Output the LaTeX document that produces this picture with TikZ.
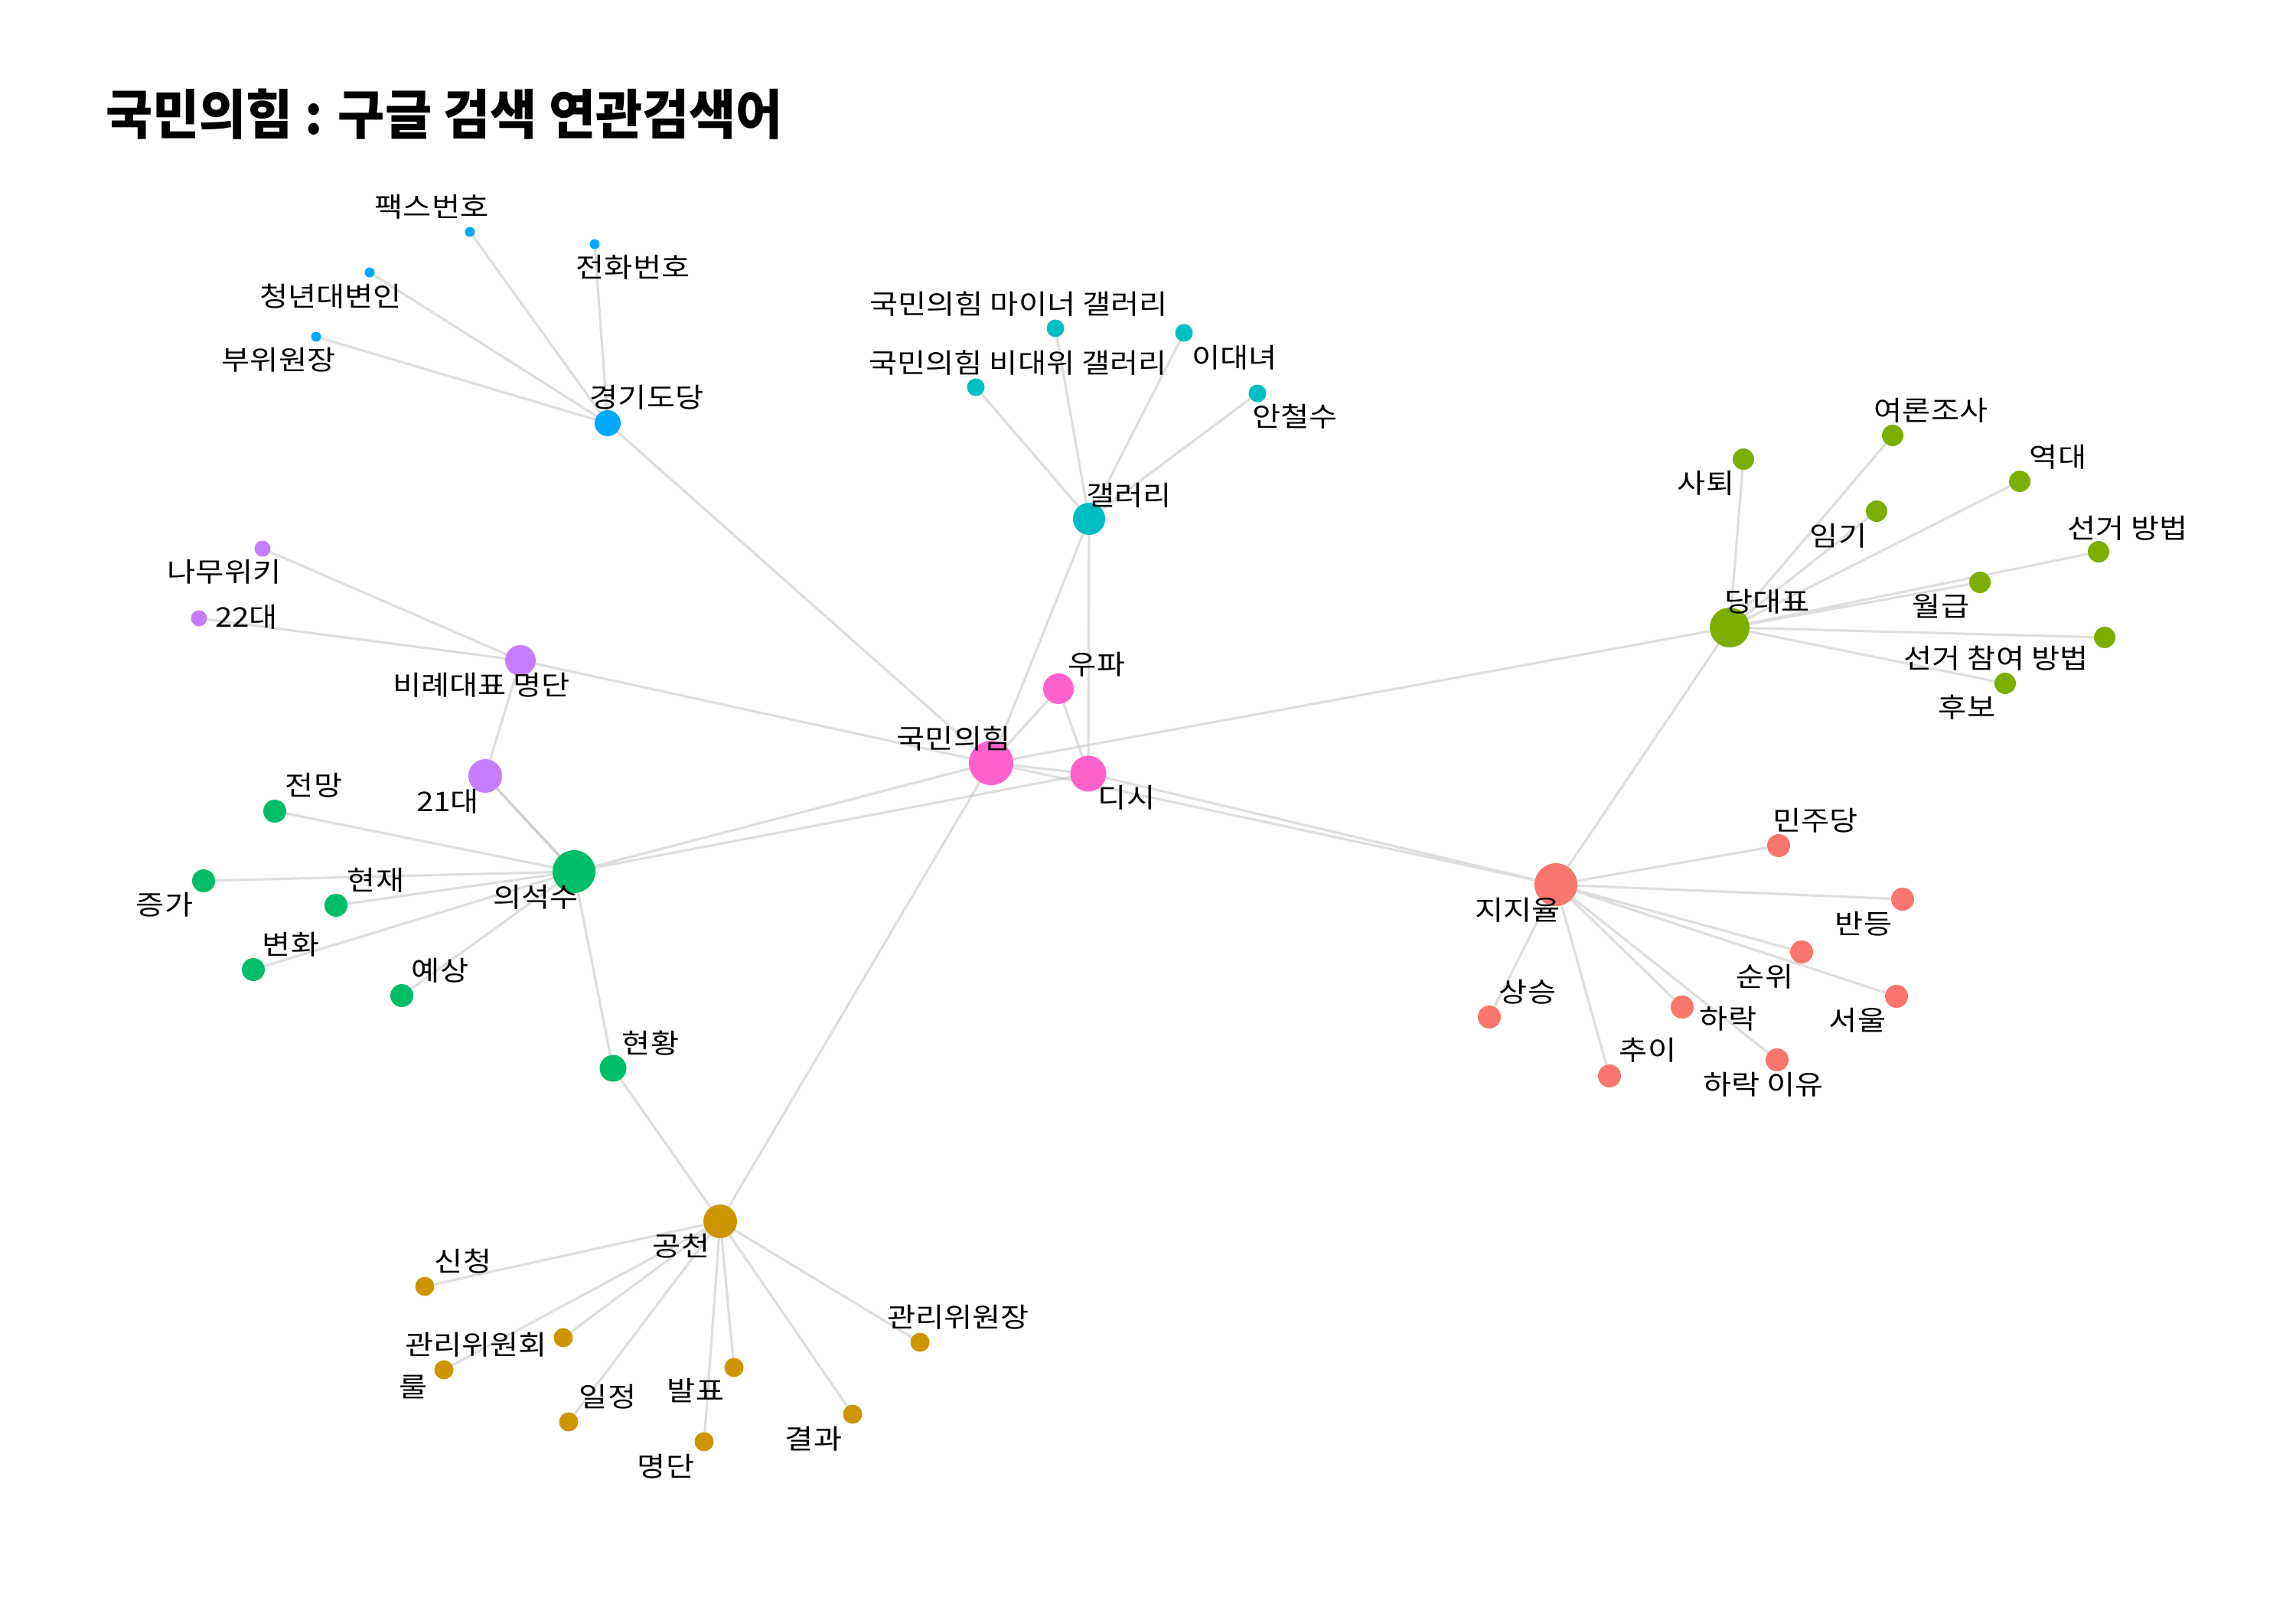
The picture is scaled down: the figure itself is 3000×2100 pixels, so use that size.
\documentclass[tikz,border=0pt]{standalone}
\usepackage{fontspec}
\setmainfont{Noto Sans CJK KR}
\newfontfamily\lblfont{Noto Sans CJK KR}[FakeStretch=1.14]
\usetikzlibrary{backgrounds}

\definecolor{pinkc}{HTML}{FF61CC}
\definecolor{goldc}{HTML}{CD9600}
\definecolor{olivec}{HTML}{7CAE00}
\definecolor{greenc}{HTML}{00BE67}
\definecolor{tealc}{HTML}{00BFC4}
\definecolor{bluec}{HTML}{00A9FF}
\definecolor{purplec}{HTML}{C77CFF}
\definecolor{salmonc}{HTML}{F8766D}
\definecolor{edgec}{HTML}{BEBEBE}

\begin{document}
\begin{tikzpicture}[x=0.5pt,y=-0.5pt,
	dot/.style={circle,draw=none,inner sep=0,outer sep=0,fill=#1},
	edge/.style={draw=edgec,draw opacity=0.5,line width=1.6pt},
	lbl/.style={inner sep=0,font=\lblfont\fontsize{17.7}{20}\selectfont}]
	\useasboundingbox (0,0) rectangle (3000,2100);
	\node[anchor=west,inner sep=0,font=\bfseries\fontsize{35}{40}\selectfont] (title) at (138,149) {\scalebox{0.95}[1]{국민의힘 : 구글 검색 연관검색어}};

	% hub nodes
	\node[dot=pinkc,minimum size=29pt] (ppp) at (1295,997) {};
	\node[dot=pinkc,minimum size=20pt] (upa) at (1383,900) {};
	\node[dot=pinkc,minimum size=23.5pt] (dc) at (1422,1011) {};
	\node[dot=bluec,minimum size=17pt] (gd) at (794,553) {};
	\node[dot=tealc,minimum size=21pt] (gal) at (1423,678) {};
	\node[dot=purplec,minimum size=20pt] (bl) at (680,863) {};
	\node[dot=purplec,minimum size=22pt] (d21) at (634,1014) {};
	\node[dot=greenc,minimum size=28pt] (seat) at (750,1139) {};
	\node[dot=greenc,minimum size=17.5pt] (stat) at (801,1396) {};
	\node[dot=goldc,minimum size=22pt] (nom) at (941,1596) {};
	\node[dot=olivec,minimum size=26pt] (lead) at (2260,820) {};
	\node[dot=salmonc,minimum size=28pt] (appr) at (2033,1156) {};

	% 경기도당
	\node[dot=bluec,minimum size=6.5pt] (fax) at (614,303) {};
	\node[dot=bluec,minimum size=6.5pt] (tel) at (777,319) {};
	\node[dot=bluec,minimum size=6.5pt] (youth) at (483,356) {};
	\node[dot=bluec,minimum size=6.5pt] (vice) at (413,440) {};
	% 갤러리
	\node[dot=tealc,minimum size=11.5pt] (minor) at (1379,429) {};
	\node[dot=tealc,minimum size=11.5pt] (emerg) at (1275,506) {};
	\node[dot=tealc,minimum size=11.5pt] (idn) at (1547,435) {};
	\node[dot=tealc,minimum size=11.5pt] (ahn) at (1643,514) {};
	% 비례대표 명단
	\node[dot=purplec,minimum size=10.5pt] (namu) at (343,717) {};
	\node[dot=purplec,minimum size=10.5pt] (d22) at (260,808) {};
	% 의석수
	\node[dot=greenc,minimum size=15pt] (outlook) at (359,1060) {};
	\node[dot=greenc,minimum size=15pt] (inc) at (266,1151) {};
	\node[dot=greenc,minimum size=15pt] (now) at (439,1183) {};
	\node[dot=greenc,minimum size=15pt] (chg) at (331,1267) {};
	\node[dot=greenc,minimum size=15pt] (fcst) at (525,1301) {};
	% 공천
	\node[dot=goldc,minimum size=12.5pt] (apply) at (555,1681) {};
	\node[dot=goldc,minimum size=12.5pt] (cmte) at (736,1748) {};
	\node[dot=goldc,minimum size=12.5pt] (rule) at (580,1790) {};
	\node[dot=goldc,minimum size=12.5pt] (sched) at (743,1858) {};
	\node[dot=goldc,minimum size=12.5pt] (annc) at (959,1787) {};
	\node[dot=goldc,minimum size=12.5pt] (roster) at (920,1884) {};
	\node[dot=goldc,minimum size=12.5pt] (result) at (1114,1848) {};
	\node[dot=goldc,minimum size=12.5pt] (chair) at (1202,1754) {};
	% 당대표
	\node[dot=olivec,minimum size=14pt] (resign) at (2278,600) {};
	\node[dot=olivec,minimum size=14pt] (poll) at (2473,569) {};
	\node[dot=olivec,minimum size=14pt] (hist) at (2639,629) {};
	\node[dot=olivec,minimum size=14pt] (term) at (2452,668) {};
	\node[dot=olivec,minimum size=14pt] (how) at (2742,721) {};
	\node[dot=olivec,minimum size=14pt] (pay) at (2587,761) {};
	\node[dot=olivec,minimum size=14pt] (vote) at (2750,833) {};
	\node[dot=olivec,minimum size=14pt] (cand) at (2620,893) {};
	% 지지율
	\node[dot=salmonc,minimum size=15pt] (dem) at (2324,1105) {};
	\node[dot=salmonc,minimum size=15pt] (rebound) at (2486,1175) {};
	\node[dot=salmonc,minimum size=15pt] (rank) at (2354,1244) {};
	\node[dot=salmonc,minimum size=15pt] (seoul) at (2478,1302) {};
	\node[dot=salmonc,minimum size=15pt] (rise) at (1946,1329) {};
	\node[dot=salmonc,minimum size=15pt] (fall) at (2198,1316) {};
	\node[dot=salmonc,minimum size=15pt] (trend) at (2103,1406) {};
	\node[dot=salmonc,minimum size=15pt] (why) at (2322,1385) {};

	\begin{scope}[on background layer]
		\draw[edge] (ppp) -- (gd) (gd) -- (fax) (gd) -- (tel) (gd) -- (youth) (gd) -- (vice);
		\draw[edge] (ppp) -- (gal) (dc) -- (gal) (gal) -- (minor) (gal) -- (emerg) (gal) -- (idn) (gal) -- (ahn);
		\draw[edge] (ppp) -- (upa) (upa) -- (dc) (ppp) -- (dc);
		\draw[edge] (ppp) -- (bl) (bl) -- (namu) (bl) -- (d22) (bl) -- (d21);
		\draw[edge] (d21) -- (seat);
		\draw[edge] (d21) -- (seat);
		\draw[edge] (seat) -- (ppp) (seat) -- (dc) (seat) -- (outlook) (seat) -- (inc) (seat) -- (now) (seat) -- (chg) (seat) -- (fcst) (seat) -- (stat);
		\draw[edge] (stat) -- (nom) (nom) -- (ppp);
		\draw[edge] (nom) -- (apply) (nom) -- (cmte) (nom) -- (rule) (nom) -- (sched) (nom) -- (annc) (nom) -- (roster) (nom) -- (result) (nom) -- (chair);
		\draw[edge] (ppp) -- (lead) (lead) -- (appr);
		\draw[edge] (lead) -- (resign) (lead) -- (poll) (lead) -- (hist) (lead) -- (term) (lead) -- (how) (lead) -- (pay) (lead) -- (vote) (lead) -- (cand);
		\draw[edge] (appr) -- (ppp) (appr) -- (dc);
		\draw[edge] (appr) -- (dem) (appr) -- (rebound) (appr) -- (rank) (appr) -- (seoul) (appr) -- (rise) (appr) -- (fall) (appr) -- (trend) (appr) -- (why);
	\end{scope}

	% labels
	\node[lbl] (fax-t) at (564,270) {팩스번호};
	\node[lbl] (tel-t) at (827,349) {전화번호};
	\node[lbl] (youth-t) at (432,387) {청년대변인};
	\node[lbl] (vice-t) at (364,470) {부위원장};
	\node[lbl] (gd-t) at (845,519) {경기도당};
	\node[lbl] (minor-t) at (1331,397) {국민의힘 마이너 갤러리};
	\node[lbl] (emerg-t) at (1330,474) {국민의힘 비대위 갤러리};
	\node[lbl] (idn-t) at (1613,467) {이대녀};
	\node[lbl] (ahn-t) at (1692,544) {안철수};
	\node[lbl] (gal-t) at (1475,647) {갤러리};
	\node[lbl] (namu-t) at (293,747) {나무위키};
	\node[lbl] (d22-t) at (322,806) {22대};
	\node[lbl] (bl-t) at (629,895) {비례대표 명단};
	\node[lbl] (upa-t) at (1433,868) {우파};
	\node[lbl] (ppp-t) at (1246,965) {국민의힘};
	\node[lbl] (dc-t) at (1472,1042) {디시};
	\node[lbl] (d21-t) at (585,1047) {21대};
	\node[lbl] (outlook-t) at (410,1026) {전망};
	\node[lbl] (inc-t) at (215,1182) {증가};
	\node[lbl] (now-t) at (491,1150) {현재};
	\node[lbl] (seat-t) at (700,1172) {의석수};
	\node[lbl] (chg-t) at (380,1234) {변화};
	\node[lbl] (fcst-t) at (575,1268) {예상};
	\node[lbl] (stat-t) at (850,1363) {현황};
	\node[lbl] (nom-t) at (890,1628) {공천};
	\node[lbl] (apply-t) at (605,1648) {신청};
	\node[lbl] (cmte-t) at (622,1757) {관리위원회};
	\node[lbl] (rule-t) at (540,1813) {룰};
	\node[lbl] (sched-t) at (794,1825) {일정};
	\node[lbl] (annc-t) at (909,1817) {발표};
	\node[lbl] (roster-t) at (870,1916) {명단};
	\node[lbl] (result-t) at (1063,1880) {결과};
	\node[lbl] (chair-t) at (1252,1721) {관리위원장};
	\node[lbl] (resign-t) at (2229,631) {사퇴};
	\node[lbl] (poll-t) at (2523,536) {여론조사};
	\node[lbl] (hist-t) at (2689,597) {역대};
	\node[lbl] (term-t) at (2402,700) {임기};
	\node[lbl] (how-t) at (2780,690) {선거 방법};
	\node[lbl] (pay-t) at (2536,792) {월급};
	\node[lbl] (lead-t) at (2309,786) {당대표};
	\node[lbl] (vote-t) at (2608,860) {선거 참여 방법};
	\node[lbl] (cand-t) at (2570,924) {후보};
	\node[lbl] (appr-t) at (1983,1189) {지지율};
	\node[lbl] (dem-t) at (2372,1072) {민주당};
	\node[lbl] (rebound-t) at (2435,1207) {반등};
	\node[lbl] (rank-t) at (2306,1276) {순위};
	\node[lbl] (seoul-t) at (2427,1333) {서울};
	\node[lbl] (rise-t) at (1996,1296) {상승};
	\node[lbl] (fall-t) at (2258,1331) {하락};
	\node[lbl] (trend-t) at (2153,1372) {추이};
	\node[lbl] (why-t) at (2304,1417) {하락 이유};
\end{tikzpicture}
\end{document}
